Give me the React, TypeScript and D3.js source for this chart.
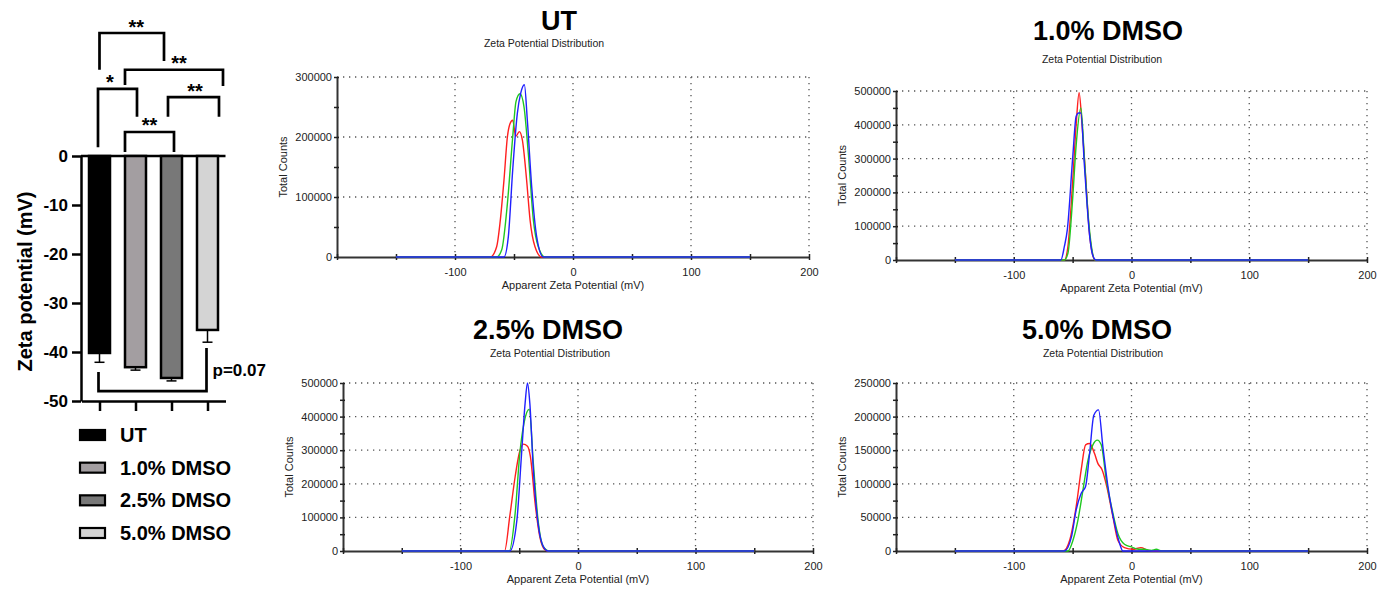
import React, { useEffect, useRef } from 'react'
import * as d3 from 'd3'

// bar chart: mean zeta potential (mV) and SD per group
const groups = ['UT', '1.0% DMSO', '2.5% DMSO', '5.0% DMSO']
const zetaMean = [-40.2, -43.1, -45.3, -35.5]
const zetaSD = [1.9, 0.6, 0.6, 2.5]
const zetaTicks = [0, -10, -20, -30, -40, -50]

// significance brackets between groups
const sigPairs = [[0, 2], [1, 3], [0, 1], [2, 3], [1, 2], [0, 3]]
const sigLabels = ['**', '**', '*', '**', '**', 'p=0.07']

// distribution panels
const panelTitles = ['UT', '1.0% DMSO', '2.5% DMSO', '5.0% DMSO']
const panelYMax = [300000, 500000, 500000, 250000]
const panelYStep = [100000, 100000, 100000, 50000]
const mvTicks = [-200, -150, -100, -50, 0, 50, 100, 150, 200]
const mvGrid = [-100, 0, 100, 200]

// runs as [apparent zeta potential (mV), total counts]
const utRed = [[-150, 0], [-70, 0], [-64.7, 17000], [-61.9, 56000], [-58.5, 128000], [-55.6, 200000], [-53.4, 222000], [-51.1, 228000], [-48.5, 201000], [-45.5, 209000], [-43, 196000], [-39.3, 128000], [-36.4, 62000], [-32.2, 17000], [-26.6, 0], [150, 0]]
const utGreen = [[-150, 0], [-64.7, 0], [-60.4, 12000], [-55.6, 89000], [-51.1, 200000], [-48.3, 259000], [-44.9, 272000], [-41.5, 250000], [-37.9, 173000], [-33.6, 62000], [-29.4, 17000], [-23.7, 0], [150, 0]]
const utBlue = [[-150, 0], [-58.5, 0], [-54.8, 34000], [-51.1, 145000], [-47.2, 239000], [-44.3, 273000], [-41.2, 287000], [-38.7, 228000], [-35, 117000], [-30.8, 34000], [-25.2, 0], [150, 0]]

const dmso10Red = [[-150, 0], [-57, 0], [-54, 40000], [-50, 230000], [-47, 400000], [-44.5, 495000], [-42, 400000], [-39, 250000], [-36, 90000], [-33, 15000], [-31, 0], [150, 0]]
const dmso10Green = [[-150, 0], [-57, 0], [-54, 20000], [-50, 180000], [-47, 340000], [-43, 450000], [-40, 300000], [-37, 140000], [-34, 40000], [-31, 0], [150, 0]]
const dmso10Blue = [[-150, 0], [-60, 0], [-57, 40000], [-54.5, 90000], [-50, 300000], [-47, 425000], [-45, 435000], [-43, 435000], [-40, 280000], [-35.5, 70000], [-33, 15000], [-30, 0], [150, 0]]

const dmso25Red = [[-150, 0], [-62.5, 0], [-58, 105000], [-53.5, 221000], [-50, 291000], [-46.5, 318000], [-43, 312000], [-40.5, 281000], [-36.5, 142000], [-32.5, 42000], [-28, 3000], [-25.5, 0], [150, 0]]
const dmso25Green = [[-150, 0], [-58.5, 0], [-53.5, 112000], [-49.5, 291000], [-46, 380000], [-41.5, 422000], [-38, 261000], [-34, 92000], [-29.5, 13000], [-24.5, 0], [150, 0]]
const dmso25Blue = [[-150, 0], [-58, 0], [-52, 92000], [-48, 291000], [-45, 440000], [-43, 500000], [-41, 440000], [-38, 241000], [-34, 82000], [-29.5, 13000], [-25.5, 0], [150, 0]]

const dmso50Red = [[-150, 0], [-58, 0], [-52.5, 16000], [-47, 66000], [-42.7, 121000], [-39, 158000], [-35.6, 160000], [-31.4, 145000], [-28.5, 130000], [-25, 121000], [-21, 96000], [-15.8, 51000], [-11.6, 16000], [-6, 5000], [1, 2500], [8, 5000], [14, 1000], [18, 0], [150, 0]]
const dmso50Green = [[-150, 0], [-54, 0], [-49.7, 16000], [-45.5, 46000], [-41.2, 91000], [-37, 135000], [-32.8, 158000], [-29, 165000], [-25.7, 158000], [-21.4, 106000], [-16.4, 61000], [-11.6, 26000], [-6, 10000], [0, 6000], [5.6, 2500], [11, 2500], [17, 1000], [21, 2500], [25.5, 0], [150, 0]]
const dmso50Blue = [[-150, 0], [-57, 0], [-51, 21000], [-47, 61000], [-42.7, 86000], [-39, 96000], [-35.6, 145000], [-32, 202000], [-28, 210000], [-24.3, 155000], [-20, 96000], [-14.4, 41000], [-10.2, 12000], [-7.3, 0], [150, 0]]

const panelSeries = [
  [utRed, utGreen, utBlue],
  [dmso10Red, dmso10Green, dmso10Blue],
  [dmso25Red, dmso25Green, dmso25Blue],
  [dmso50Red, dmso50Green, dmso50Blue],
]

const FONT = "'Liberation Sans', Arial, sans-serif"

const App = () => {
  const svgRef = useRef<SVGSVGElement>(null)

  useEffect(() => {
    const svg = d3.select(svgRef.current)
    svg.selectAll('*').remove()

    // ---------- bar chart ----------
    const barFills = ['#000000', '#a39ea1', '#787878', '#d4d4d4']
    const yBar = d3.scaleLinear().domain([-50, 0]).range([401, 156])
    const xBar = d3.scalePoint<string>().domain(groups).range([81.5, 225.5]).padding(0.5)
    const bar = svg.append('g')

    const yAx = bar.append('g')
      .attr('transform', 'translate(81,0)')
      .call(d3.axisLeft(yBar).tickValues(zetaTicks).tickSize(9).tickSizeOuter(0).tickPadding(4).tickFormat((d: any) => String(d)))
    yAx.select('.domain').attr('stroke-width', 2.5)
    yAx.selectAll('.tick line').attr('stroke-width', 2.5)
    yAx.selectAll('.tick text').attr('font-size', 17).attr('font-weight', 'bold').attr('font-family', FONT).attr('fill', '#000')

    const xAx = bar.append('g')
      .attr('transform', 'translate(0,401)')
      .call(d3.axisBottom(xBar).tickSize(10).tickSizeOuter(0).tickFormat(() => ''))
    xAx.select('.domain').attr('stroke-width', 2.5)
    xAx.selectAll('.tick line').attr('stroke-width', 2.5)

    bar.append('line')
      .attr('x1', 81).attr('x2', 225.5)
      .attr('y1', yBar(0)).attr('y2', yBar(0))
      .attr('stroke', '#000').attr('stroke-width', 2.5)

    groups.forEach((g, i) => {
      const cx = xBar(g) as number
      const lo = yBar(zetaMean[i] - zetaSD[i])
      bar.append('line')
        .attr('x1', cx).attr('x2', cx).attr('y1', yBar(zetaMean[i])).attr('y2', lo)
        .attr('stroke', '#000').attr('stroke-width', 1.5)
      bar.append('line')
        .attr('x1', cx - 5).attr('x2', cx + 5).attr('y1', lo).attr('y2', lo)
        .attr('stroke', '#000').attr('stroke-width', 1.5)
      bar.append('rect')
        .attr('x', cx - 10.5).attr('width', 21)
        .attr('y', yBar(0)).attr('height', yBar(zetaMean[i]) - yBar(0))
        .attr('fill', barFills[i]).attr('stroke', '#000').attr('stroke-width', 2.5)
    })

    // bracket layout: top level, leg ends (mV units) and x nudges
    const bracketLayout = [
      { top: 25.1, legA: 17.6, legB: 19.4, dxA: 0, dxB: -7.5, ldx: 4.5 },
      { top: 17.6, legA: 14.5, legB: 14.3, dxA: -10.5, dxB: 15.5, ldx: 5 },
      { top: 13.7, legA: 1.8, legB: 8.0, dxA: -1.5, dxB: 1.5, ldx: -7.5 },
      { top: 12.0, legA: 8.0, legB: 8.0, dxA: -3.5, dxB: 11.5, ldx: 1.5 },
      { top: 4.9, legA: 0.8, legB: 0.8, dxA: -10.5, dxB: 2.5, ldx: 0 },
      { top: -48.0, legA: -44.1, legB: -39.2, dxA: -1, dxB: -1, ldx: 0 },
    ]
    sigPairs.forEach(([a, b], i) => {
      const L = bracketLayout[i]
      const xa = (xBar(groups[a]) as number) + L.dxA
      const xb = (xBar(groups[b]) as number) + L.dxB
      bar.append('path')
        .attr('d', `M${xa},${yBar(L.legA)}V${yBar(L.top)}H${xb}V${yBar(L.legB)}`)
        .attr('fill', 'none').attr('stroke', '#000').attr('stroke-width', 2.7)
      const isP = sigLabels[i].startsWith('p')
      bar.append('text')
        .attr('x', isP ? xb + 6 : (xa + xb) / 2 + L.ldx)
        .attr('y', isP ? 376 : yBar(L.top) + 0.5)
        .attr('text-anchor', isP ? 'start' : 'middle')
        .attr('font-family', FONT).attr('font-weight', 'bold')
        .attr('font-size', isP ? 17 : 20)
        .text(sigLabels[i])
    })

    bar.append('text')
      .attr('transform', `translate(32,${(yBar(0) + yBar(-50)) / 2 + 3}) rotate(-90)`)
      .attr('text-anchor', 'middle')
      .attr('font-family', FONT).attr('font-weight', 'bold').attr('font-size', 20)
      .text('Zeta potential (mV)')

    const legendY = d3.scalePoint<string>().domain(groups).range([442, 540])
    groups.forEach((g, i) => {
      const by = legendY(g) as number
      bar.append('rect')
        .attr('x', 80).attr('y', by - 12).attr('width', 25).attr('height', 10)
        .attr('fill', barFills[i]).attr('stroke', '#000').attr('stroke-width', 2.2)
      bar.append('text')
        .attr('x', 120).attr('y', by)
        .attr('font-family', FONT).attr('font-weight', 'bold').attr('font-size', 20)
        .text(g)
    })

    // ---------- distribution panels ----------
    const panelBoxes = [
      { left: 337, right: 809, top: 77, bottom: 257, titleX: 559, titleY: 30, subX: 544, subY: 47, yLabelX: 287 },
      { left: 896, right: 1367, top: 91, bottom: 260, titleX: 1108, titleY: 40, subX: 1102, subY: 63, yLabelX: 846 },
      { left: 343, right: 813, top: 383, bottom: 551, titleX: 548, titleY: 339, subX: 550, subY: 357, yLabelX: 293 },
      { left: 896, right: 1367, top: 383, bottom: 551, titleX: 1097, titleY: 339, subX: 1103, subY: 357, yLabelX: 846 },
    ]
    const lineColors = ['#ff1f1f', '#1fc81f', '#2020ff']

    panelBoxes.forEach((B, p) => {
      const g = svg.append('g')
      const x = d3.scaleLinear().domain([-200, 200]).range([B.left, B.right])
      const y = d3.scaleLinear().domain([0, panelYMax[p]]).range([B.bottom, B.top])
      const step = panelYStep[p]
      const major = d3.range(0, panelYMax[p] + 1, step)
      const minor = d3.range(step / 2, panelYMax[p], step)

      // dotted grid
      g.selectAll('.hg').data(major.filter(v => v > 0)).enter().append('line')
        .attr('x1', B.left).attr('x2', B.right).attr('y1', d => y(d)).attr('y2', d => y(d))
        .attr('stroke', '#555').attr('stroke-width', 1.3).attr('stroke-dasharray', '1.3 4.7')
      g.selectAll('.vg').data(mvGrid).enter().append('line')
        .attr('x1', d => x(d)).attr('x2', d => x(d)).attr('y1', B.top).attr('y2', B.bottom)
        .attr('stroke', '#555').attr('stroke-width', 1.3).attr('stroke-dasharray', '1.3 4.7')

      // axes
      const ya = g.append('g').attr('transform', `translate(${B.left},0)`)
        .call(d3.axisLeft(y).tickValues(major).tickSize(3).tickSizeOuter(0).tickPadding(2).tickFormat((d: any) => String(d)))
      ya.select('.domain').attr('stroke', '#333').attr('stroke-width', 2)
      ya.selectAll('.tick line').attr('x1', 2).attr('stroke', '#222').attr('stroke-width', 1.5)
      ya.selectAll('.tick text').attr('font-size', 11).attr('font-family', FONT).attr('fill', '#222')
      const ym = g.append('g').attr('transform', `translate(${B.left},0)`)
        .call(d3.axisLeft(y).tickValues(minor).tickSize(3).tickSizeOuter(0).tickFormat(() => ''))
      ym.select('.domain').remove()
      ym.selectAll('.tick line').attr('x1', 2).attr('stroke', '#222').attr('stroke-width', 1.5)

      const xa = g.append('g').attr('transform', `translate(0,${B.bottom})`)
        .call(d3.axisBottom(x).tickValues(mvTicks).tickSize(3).tickSizeOuter(0).tickPadding(8)
          .tickFormat((d: any) => (d % 100 === 0 && d > -200 ? String(d) : '')))
      xa.select('.domain').attr('stroke', '#333').attr('stroke-width', 1.8)
      xa.selectAll('.tick line').attr('y1', -3).attr('stroke', '#222').attr('stroke-width', 1.5)
      xa.selectAll('.tick text').attr('font-size', 11).attr('font-family', FONT).attr('fill', '#222')

      // runs
      const line = d3.line<number[]>().x(d => x(d[0])).y(d => y(d[1])).curve(d3.curveMonotoneX)
      panelSeries[p].forEach((s, k) => {
        g.append('path').attr('d', line(s as number[][]) as string)
          .attr('fill', 'none').attr('stroke', lineColors[k]).attr('stroke-width', 1.4)
      })

      // titles
      g.append('text').attr('x', B.titleX).attr('y', B.titleY).attr('text-anchor', 'middle')
        .attr('font-family', FONT).attr('font-weight', 'bold').attr('font-size', 27)
        .text(panelTitles[p])
      g.append('text').attr('x', B.subX).attr('y', B.subY).attr('text-anchor', 'middle')
        .attr('font-family', FONT).attr('font-size', 10.5).attr('fill', '#222')
        .text('Zeta Potential Distribution')
      g.append('text')
        .attr('transform', `translate(${B.yLabelX},${(B.top + B.bottom) / 2}) rotate(-90)`)
        .attr('text-anchor', 'middle')
        .attr('font-family', FONT).attr('font-size', 11).attr('fill', '#222')
        .text('Total Counts')
      g.append('text').attr('x', x(0)).attr('y', B.bottom + 32).attr('text-anchor', 'middle')
        .attr('font-family', FONT).attr('font-size', 11).attr('fill', '#222')
        .text('Apparent Zeta Potential (mV)')
    })
  }, [])

  return (
    <svg ref={svgRef} width={1378} height={589}
      style={{ position: 'absolute', left: 0, top: 0, background: '#fff' }} />
  )
}

export default App
